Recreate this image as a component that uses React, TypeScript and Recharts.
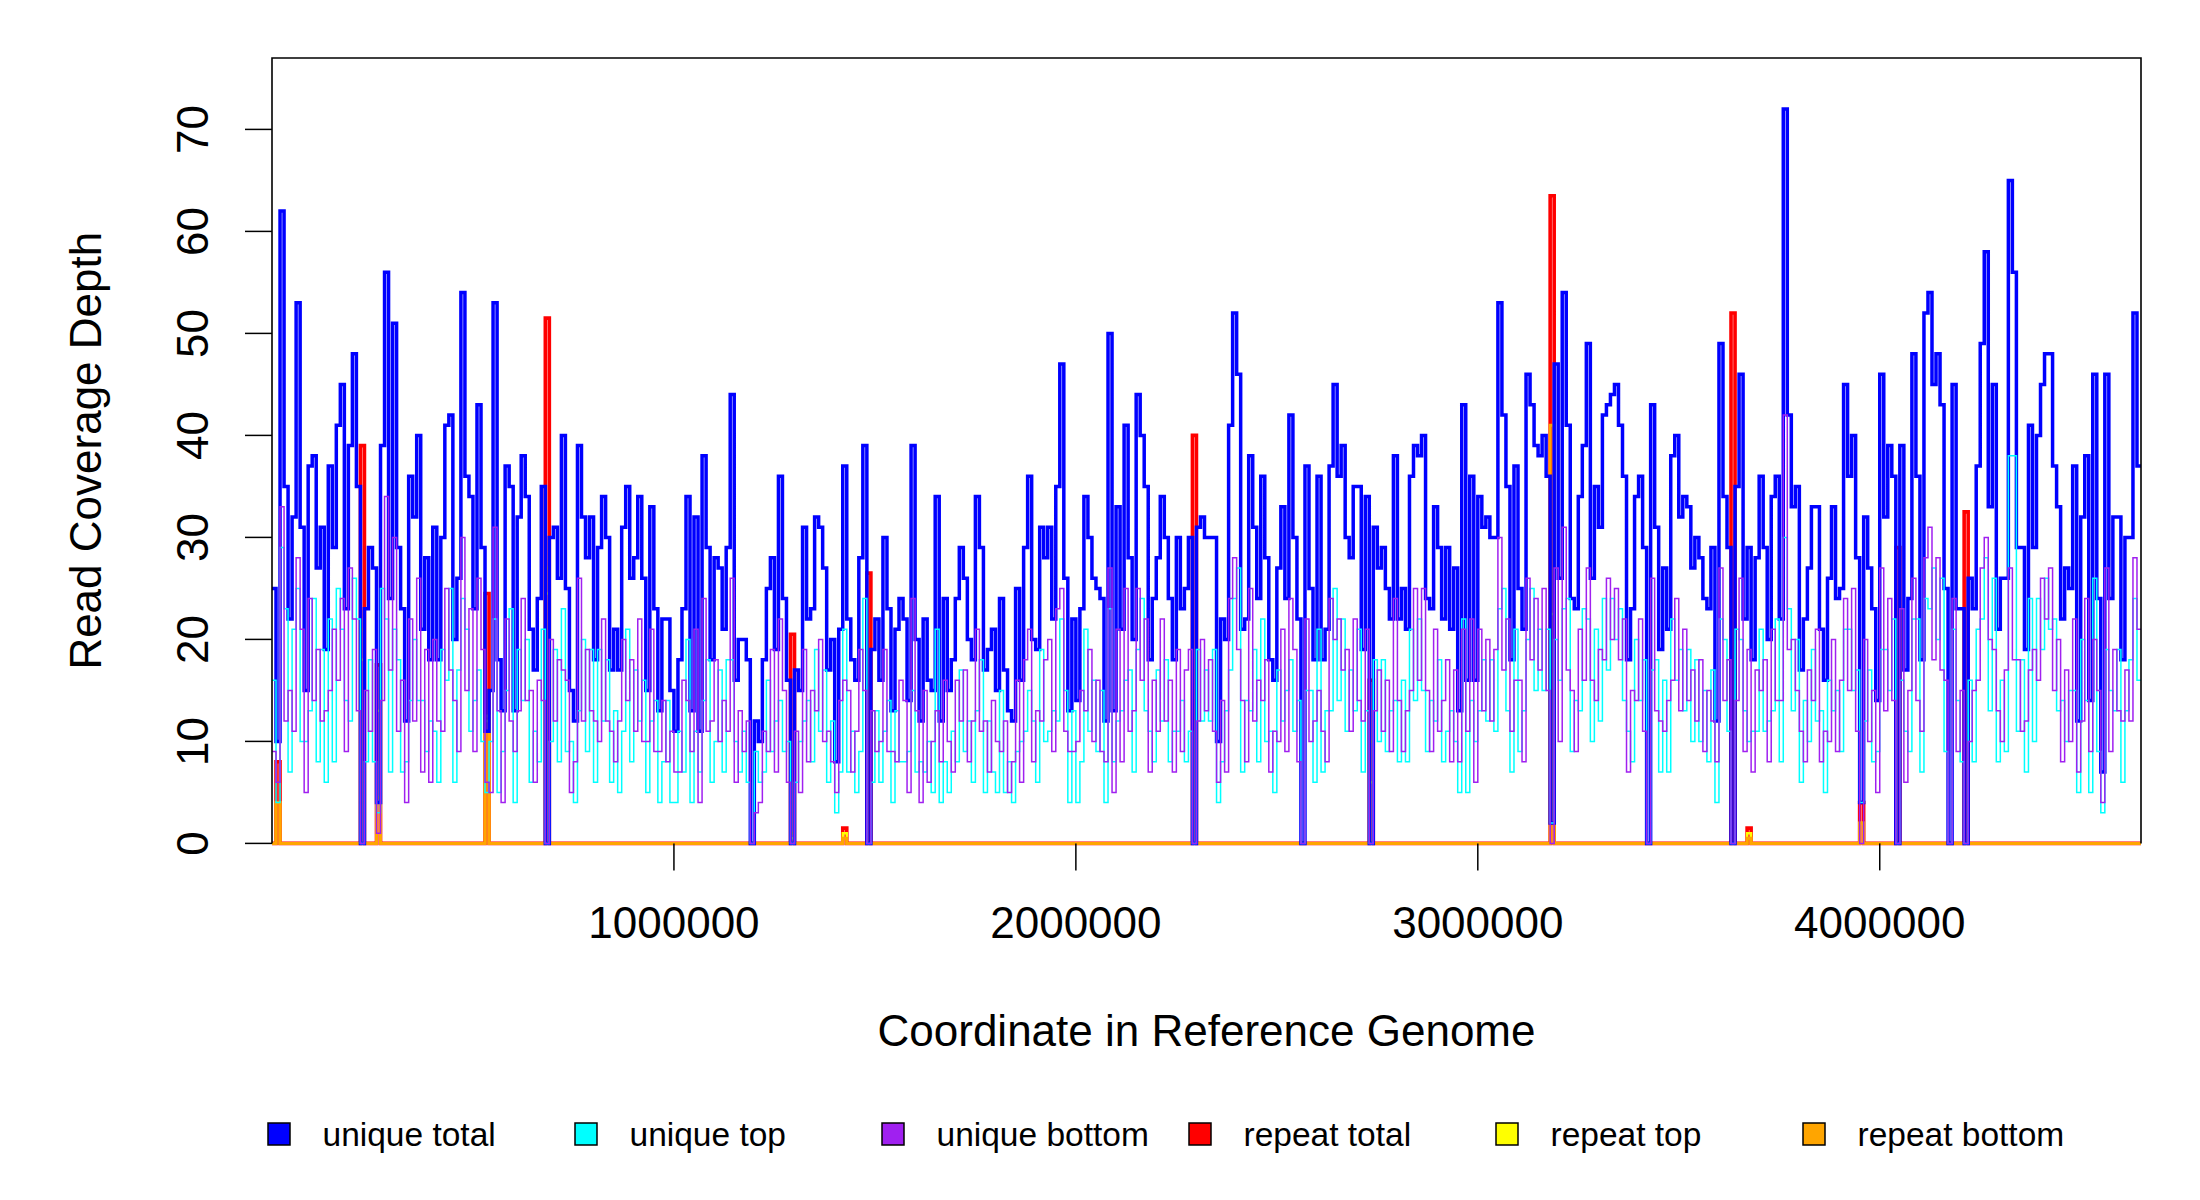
import React from 'react';
import { LineChart, Line, XAxis, YAxis } from 'recharts';

// ---------- data ----------
const BIN_SIZE = 10000;
const GENOME_END = 4650000;
const X_TICKS = [1000000, 2000000, 3000000, 4000000];
const Y_TICKS = [0, 10, 20, 30, 40, 50, 60, 70];

const UNIQUE_TOTAL = [
  25,10,62,35,22,32,53,31,15,37,
  38,27,31,19,37,29,41,45,23,39,
  48,35,0,23,29,27,4,39,56,24,
  51,29,23,12,36,32,40,21,28,18,
  31,18,30,41,42,20,26,54,36,34,
  23,43,29,11,15,53,18,13,37,35,
  13,32,38,34,21,17,24,35,0,30,
  31,26,40,25,15,12,39,32,28,32,
  18,29,34,30,17,21,17,31,35,26,
  28,34,26,15,33,23,13,22,22,15,
  11,18,23,34,13,32,11,38,29,18,
  28,27,21,29,44,16,20,20,
  18,0,12,10,18,25,28,19,36,24,
  16,0,17,15,31,22,23,32,31,27,
  17,20,8,21,37,22,18,16,28,39,
  0,19,22,16,30,23,13,21,24,22,
  14,39,20,12,22,16,15,34,12,24,
  15,18,24,29,26,20,18,34,29,17,
  19,21,15,24,17,13,12,25,16,29,
  36,20,19,31,28,31,22,35,47,26,
  13,22,14,23,34,30,26,25,24,12,
  50,13,33,21,41,28,20,44,40,35,
  18,24,28,34,30,24,18,30,23,25,
  30,0,31,32,30,30,
  30,
  10,22,20,41,52,46,21,22,38,31,
  24,36,28,18,16,27,33,24,42,30,
  22,0,37,25,18,36,18,21,37,45,
  36,39,30,28,35,35,19,34,0,31,
  27,29,25,22,38,22,25,21,36,39,
  38,40,24,23,33,29,22,29,21,27,
  13,43,16,36,16,34,31,32,30,30,
  53,42,35,18,37,25,21,46,43,39,
  38,40,36,2,47,26,54,41,24,23,
  34,39,49,26,35,31,42,43,44,45,
  41,36,18,23,34,36,29,0,43,31,
  19,27,21,38,40,32,34,
  33,27,30,28,24,23,29,12,49,34,
  29,0,35,46,22,29,18,28,36,29,
  20,34,36,22,72,42,33,35,17,22,
  27,33,33,21,16,26,33,24,25,45,
  36,40,28,4,32,27,23,14,46,32,
  39,36,0,39,17,24,48,36,18,52,
  54,45,48,43,25,0,45,23,23,0,
  26,23,37,49,58,33,45,21,26,26,
  65,56,29,29,19,41,29,40,45,48,
  48,37,33,22,27,25,37,12,32,38,
  14,46,24,7,46,24,32,32,18,30,
  30,52,37,
];

const UNIQUE_BOTTOM = [
  9,6,33,12,15,11,28,21,5,24,
  14,19,12,13,15,21,16,24,9,27,
  22,13,0,15,11,19,1,14,34,17,
  30,11,16,4,22,12,26,7,19,6,
  20,12,11,25,17,14,9,30,15,23,
  9,26,19,6,5,31,13,4,22,12,
  9,13,24,14,15,6,16,14,0,20,
  12,18,17,16,5,8,26,12,19,13,
  12,10,22,12,11,8,12,20,14,18,
  11,22,10,10,21,9,9,14,8,11,
  7,7,16,14,9,21,4,24,11,12,
  18,10,14,11,26,6,13,9,
  12,0,3,4,11,9,19,7,22,15,
  6,0,11,5,19,8,15,13,20,10,
  11,8,5,14,16,15,7,11,19,15,
  0,13,9,10,19,9,9,8,16,14,
  5,24,13,4,15,6,10,13,8,16,
  10,7,16,12,17,8,12,21,11,12,
  7,14,10,9,12,5,8,16,6,18,
  21,8,13,12,18,20,9,23,25,11,
  9,9,10,15,13,19,10,16,9,8,
  27,5,21,8,25,11,13,25,16,22,
  7,16,11,22,12,16,7,19,9,17,
  19,0,12,20,13,18,
  11,
  6,14,7,24,28,19,14,8,25,12,
  16,14,18,7,11,10,21,9,24,19,
  8,0,22,10,12,15,11,8,24,20,
  22,17,19,11,22,14,12,21,0,13,
  17,11,16,9,24,14,9,13,15,25,
  16,25,15,9,21,11,14,18,8,17,
  8,21,11,22,6,21,13,20,12,19,
  30,17,22,11,16,16,8,26,18,24,
  17,25,15,0,27,10,31,17,15,9,
  21,16,27,16,14,19,18,26,20,25,
  18,22,7,15,14,22,11,0,26,13,
  12,11,14,16,24,13,21,
  14,17,12,18,9,15,12,8,27,14,
  18,0,14,26,9,19,7,17,15,18,
  8,21,14,14,42,19,20,15,11,8,
  17,14,21,8,11,10,20,9,16,24,
  15,25,11,0,20,10,15,5,27,13,
  24,14,0,23,6,15,26,14,11,28,
  31,18,28,17,16,0,24,9,15,0,
  10,15,16,27,30,20,19,13,10,17,
  27,18,18,11,12,17,19,16,26,22,
  27,15,20,8,17,10,22,7,12,24,
  9,20,15,4,27,9,19,13,12,17,
  12,28,21,
];

const UNIQUE_TOP = [
  16,4,29,23,7,21,25,10,10,13,
  24,8,19,6,22,8,25,21,14,12,
  26,22,0,8,18,8,3,25,22,7,
  21,18,7,8,14,20,14,14,9,12,
  11,6,19,16,25,6,17,24,21,11,
  14,17,10,5,10,22,5,9,15,23,
  4,19,14,20,6,11,8,21,0,10,
  19,8,23,9,10,4,13,20,9,19,
  6,19,12,18,6,13,5,11,21,8,
  17,12,16,5,12,14,4,8,14,4,
  4,11,7,20,4,11,7,14,18,6,
  10,17,7,18,18,10,7,11,
  6,0,9,6,7,16,9,12,14,9,
  10,0,6,10,12,14,8,19,11,17,
  6,12,3,7,21,7,11,5,9,24,
  0,6,13,6,11,14,4,13,8,8,
  9,15,7,8,7,10,5,21,4,8,
  5,11,8,17,9,12,6,13,18,5,
  12,7,5,15,5,8,4,9,10,11,
  15,12,6,19,10,11,13,12,22,15,
  4,13,4,8,21,11,16,9,15,4,
  23,8,12,13,16,17,7,19,24,13,
  11,8,17,12,18,8,11,11,14,8,
  11,0,19,12,17,12,
  19,
  4,8,13,17,24,27,7,14,13,19,
  8,22,10,11,5,17,12,15,18,11,
  14,0,15,15,6,21,7,13,13,25,
  14,22,11,17,13,21,7,13,0,18,
  10,18,9,13,14,8,16,8,21,14,
  22,15,9,14,12,18,8,11,13,10,
  5,22,5,14,10,13,18,12,18,11,
  23,25,13,7,21,9,13,20,25,15,
  21,15,21,2,20,16,23,24,9,14,
  13,23,22,10,21,12,24,17,24,20,
  23,14,11,8,20,14,18,0,17,18,
  7,16,7,22,16,19,13,
  19,10,18,10,15,8,17,4,22,20,
  11,0,21,20,13,10,11,11,21,11,
  12,13,22,8,30,23,13,20,6,14,
  10,19,12,13,5,16,13,15,9,21,
  21,15,17,4,12,17,8,9,19,19,
  15,22,0,16,11,9,22,22,7,24,
  23,27,20,26,9,0,21,14,8,0,
  16,8,21,22,28,13,26,8,16,9,
  38,38,11,18,7,24,10,24,19,26,
  21,22,13,14,10,15,15,5,20,14,
  5,26,9,3,19,15,13,19,6,13,
  18,24,16,
];

// repeat series are zero except in these windows
const REPEAT_TOTAL_AT = [1, 22, 26, 53, 68, 129, 142, 148, 229, 273, 318, 363, 367, 395, 404, 421];
const REPEAT_TOTAL_VAL = [8, 39, 17.5, 24.5, 51.5, 20.5, 1.5, 26.5, 40, 16, 63.5, 52, 1.5, 4, 29, 32.5];
const REPEAT_TOP_AT = [1, 22, 26, 53, 68, 129, 142, 273, 318, 367, 395];
const REPEAT_TOP_VAL = [4, 18, 13, 12, 24.5, 0.5, 1, 6, 22.5, 1, 2];
const REPEAT_BOTTOM_AT = [1, 22, 26, 53, 68, 129, 142, 273, 318, 367, 395];
const REPEAT_BOTTOM_VAL = [4, 21, 4.5, 12.5, 27, 1, 0.5, 10, 41, 0.5, 2];

// legend order
const SERIES = [
  { key: 'uniqueTotal', name: 'unique total', color: '#0000FF', width: 3.5 },
  { key: 'uniqueTop', name: 'unique top', color: '#00FFFF', width: 1.5 },
  { key: 'uniqueBottom', name: 'unique bottom', color: '#A020F0', width: 1.5 },
  { key: 'repeatTotal', name: 'repeat total', color: '#FF0000', width: 3.6 },
  { key: 'repeatTop', name: 'repeat top', color: '#FFFF00', width: 2.5 },
  { key: 'repeatBottom', name: 'repeat bottom', color: '#FFA500', width: 3 },
];
// drawing order (repeat series underneath)
const DRAW_ORDER = ['repeatTotal', 'repeatTop', 'repeatBottom', 'uniqueTotal', 'uniqueTop', 'uniqueBottom'];

function expand(at: number[], vals: number[], n: number): number[] {
  const out = new Array(n).fill(0);
  at.forEach((k, j) => { out[k] = vals[j]; });
  return out;
}

const N = UNIQUE_TOTAL.length;
const repeatTotal = expand(REPEAT_TOTAL_AT, REPEAT_TOTAL_VAL, N);
const repeatTop = expand(REPEAT_TOP_AT, REPEAT_TOP_VAL, N);
const repeatBottom = expand(REPEAT_BOTTOM_AT, REPEAT_BOTTOM_VAL, N);

const rows: any[] = [];
for (let i = 0; i < N; i++) {
  rows.push({
    pos: i * BIN_SIZE,
    uniqueTotal: UNIQUE_TOTAL[i] ?? 0,
    uniqueTop: UNIQUE_TOP[i] ?? 0,
    uniqueBottom: UNIQUE_BOTTOM[i] ?? 0,
    repeatTotal: repeatTotal[i],
    repeatTop: repeatTop[i],
    repeatBottom: repeatBottom[i],
  });
}
rows.push({ ...rows[rows.length - 1], pos: GENOME_END });

// ---------- layout ----------
const FONT = '"Liberation Sans", Arial, Helvetica, sans-serif';
const PLOT_L = 272;
const PLOT_R = 2141;
const PLOT_T = 58;
const PLOT_B = 843.4;

const XTick = (props: any) => (
  <text x={props.x} y={938} textAnchor="middle" fontSize={44} fontFamily={FONT} fill="#000">
    {props.payload.value}
  </text>
);

const YTick = (props: any) => (
  <text
    x={208}
    y={props.y}
    transform={`rotate(-90 208 ${props.y})`}
    textAnchor="middle"
    fontSize={44}
    fontFamily={FONT}
    fill="#000"
  >
    {props.payload.value}
  </text>
);

export default function App() {
  return (
    <div style={{ position: 'absolute', left: 0, top: 0, width: 2200, height: 1200, background: '#fff' }}>
      <LineChart
        width={2200}
        height={1200}
        data={rows}
        margin={{ top: PLOT_T, right: 2200 - PLOT_R, bottom: 1200 - PLOT_B - 80, left: PLOT_L - 80 }}
      >
        <XAxis
          dataKey="pos"
          type="number"
          scale="linear"
          domain={[0, GENOME_END]}
          ticks={X_TICKS}
          interval={0}
          height={80}
          tickSize={27}
          axisLine={false}
          tickLine={{ stroke: '#000', strokeWidth: 1.5 }}
          tick={(p: any) => <XTick {...p} />}
        />
        <YAxis
          type="number"
          domain={[0, 77]}
          ticks={Y_TICKS}
          interval={0}
          width={80}
          tickSize={27}
          axisLine={false}
          tickLine={{ stroke: '#000', strokeWidth: 1.5 }}
          tick={(p: any) => <YTick {...p} />}
        />
        {DRAW_ORDER.map((k) => {
          const s = SERIES.find((x) => x.key === k)!;
          return (
            <Line
              key={s.key}
              dataKey={s.key}
              name={s.name}
              type="stepAfter"
              stroke={s.color}
              strokeWidth={s.width}
              dot={false}
              activeDot={false}
              isAnimationActive={false}
            />
          );
        })}
      </LineChart>
      <svg
        width={2200}
        height={1200}
        style={{ position: 'absolute', left: 0, top: 0, pointerEvents: 'none' }}
      >
        <path
          d={`M${PLOT_L},${PLOT_B} L${PLOT_L},${PLOT_T} L${PLOT_R},${PLOT_T} L${PLOT_R},${PLOT_B}`}
          fill="none"
          stroke="#000"
          strokeWidth={1.6}
        />
        <text x={(PLOT_L + PLOT_R) / 2} y={1046} textAnchor="middle" fontSize={44} fontFamily={FONT} fill="#000">
          Coordinate in Reference Genome
        </text>
        <text
          x={101}
          y={(PLOT_T + PLOT_B) / 2}
          transform={`rotate(-90 101 ${(PLOT_T + PLOT_B) / 2})`}
          textAnchor="middle"
          fontSize={44}
          fontFamily={FONT}
          fill="#000"
        >
          Read Coverage Depth
        </text>
        {SERIES.map((s, i) => {
          const cx = 279 + i * 307;
          return (
            <g key={s.key}>
              <rect x={cx - 11} y={1123} width={22} height={22} fill={s.color} stroke="#000" strokeWidth={1.5} />
              <text x={cx + 43.5} y={1146} fontSize={33.5} fontFamily={FONT} fill="#000">
                {s.name}
              </text>
            </g>
          );
        })}
      </svg>
    </div>
  );
}
